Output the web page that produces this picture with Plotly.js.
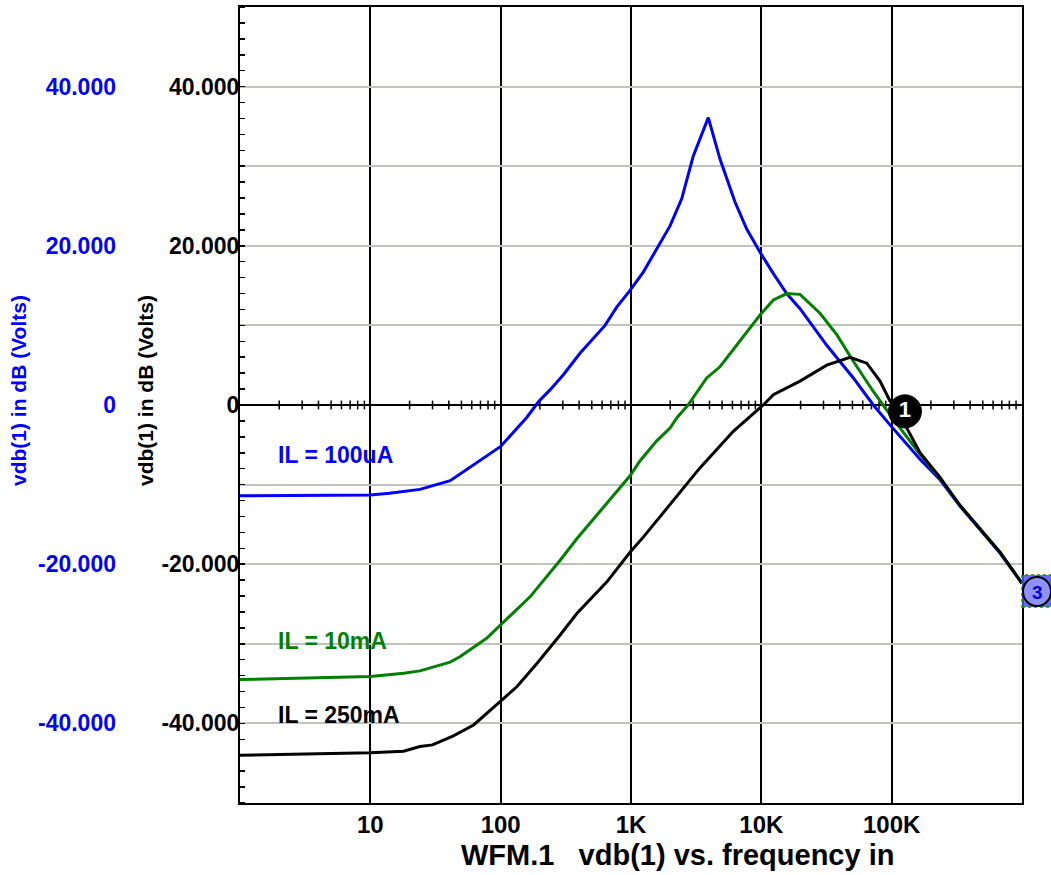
<!DOCTYPE html>
<html>
<head>
<meta charset="utf-8">
<script src="https://cdn.plot.ly/plotly-3.0.1.min.js"></script>
<style>html,body{margin:0;padding:0;background:#fff;}#chart{width:1051px;height:875px;}</style>
</head>
<body>
<div id="chart"></div>
<script>
// ---- data ----
const freqBlue = [1, 10, 14, 24, 41, 78, 100, 158, 195, 239, 303, 406, 514, 632, 777, 983, 1243, 1575, 1993, 2449, 3006, 3918, 4818, 6281, 7727, 9772, 12370, 15660, 19810, 31770, 50800, 72300, 97100, 165000, 235000, 334000, 476000, 678000, 1000000];
const dbBlue   = [-11.4, -11.3, -11.1, -10.6, -9.5, -6.4, -5.2, -1.6, 0.4, 1.9, 3.8, 6.5, 8.4, 10.0, 12.3, 14.4, 16.7, 19.6, 22.5, 25.9, 31.3, 36.1, 30.9, 25.5, 22.1, 19.2, 16.5, 14.0, 12.1, 7.5, 3.4, 0.0, -2.5, -6.8, -9.4, -12.7, -15.6, -18.6, -22.4];

const freqGreen = [1, 10, 18, 24, 41, 49, 78, 99, 168, 286, 384, 610, 983, 1175, 1575, 1993, 2250, 2740, 3810, 4818, 6440, 9772, 12370, 15660, 19810, 28300, 38000, 50800, 72300, 97100, 165000, 235000, 334000, 476000, 678000, 1000000];
const dbGreen   = [-34.5, -34.1, -33.7, -33.4, -32.3, -31.6, -29.3, -27.7, -24.1, -19.5, -16.8, -12.9, -8.9, -7.0, -4.5, -2.9, -1.6, 0.0, 3.4, 4.8, 7.5, 11.3, 13.2, 14.0, 13.9, 11.5, 8.8, 5.5, 1.7, -1.2, -6.2, -9.2, -12.6, -15.5, -18.5, -22.4];

const freqBlack = [1, 10, 18, 24, 30, 43, 62, 83, 99, 133, 189, 286, 384, 651, 983, 1243, 1993, 3380, 6095, 10350, 12370, 19810, 31770, 47900, 64400, 81400, 97100, 130600, 165000, 235000, 334000, 476000, 678000, 1000000];
const dbBlack   = [-44.0, -43.7, -43.5, -42.9, -42.7, -41.6, -40.2, -38.3, -37.25, -35.4, -32.5, -28.9, -26.2, -22.25, -18.5, -16.6, -12.5, -7.9, -3.3, 0.0, 1.3, 3.0, 5.0, 6.0, 5.25, 3.0, 0.5, -2.9, -6.0, -9.1, -12.6, -15.5, -18.5, -22.4];

const seriesNames  = ["IL = 100uA", "IL = 10mA", "IL = 250mA"];
const seriesColors = ["#0000ff", "#008000", "#000000"];

const yTickVals  = [-40, -30, -20, -10, 0, 10, 20, 30, 40];
const yTickText  = ["-40.000", "", "-20.000", "", "0", "", "20.000", "", "40.000"];
const xTickVals  = [10, 100, 1000, 10000, 100000];
const xTickText  = ["10", "100", "1K", "10K", "100K"];

const xTitle = "WFM.1\u00a0\u00a0\u00a0vdb(1) vs. frequency in";
const yTitle = "vdb(1) in dB (Volts)";

// cursor markers
const cursor1Text = "1";
const cursor1Freq = 126500;
const cursor1Db   = -0.8;
const cursor3Text = "3";

// label positions (log10 freq, dB)
const labelLogF = [0.28, 0.28, 0.28];
const labelDb   = [-6.3, -29.7, -39.0];

// ---- minor log ticks along the 0 dB axis ----
const minorX = [], minorY = [];
for (let d = 0; d < 6; d++) {
  for (let k = 2; k <= 9; k++) {
    const f = k * Math.pow(10, d);
    minorX.push(f, f, null);
    minorY.push(-0.55, 0.55, null);
  }
}

const FONT = "Liberation Sans, Arial, Helvetica, sans-serif";
const L = 240, R = 29, T = 7, B = 72, W = 1051, H = 875;
const PW = W - L - R, PH = H - T - B;
const px2x = p => (p - L) / PW;
const py2y = p => (H - B - p) / PH;

const traces = [
  {x: minorX, y: minorY, mode: "lines", line: {color: "#000", width: 1.5}, hoverinfo: "skip", showlegend: false},
  {x: freqBlue, y: dbBlue, mode: "lines", name: seriesNames[0], line: {color: seriesColors[0], width: 3}},
  {x: freqGreen, y: dbGreen, mode: "lines", name: seriesNames[1], line: {color: seriesColors[1], width: 3}},
  {x: freqBlack, y: dbBlack, mode: "lines", name: seriesNames[2], line: {color: seriesColors[2], width: 3}},
  {x: [cursor1Freq], y: [cursor1Db], mode: "markers+text", text: [cursor1Text], textposition: "middle center",
   textfont: {family: FONT, size: 22, color: "#fff", weight: "bold"},
   marker: {size: 33, color: "#000", line: {color: "#000", width: 1}}, cliponaxis: false, hoverinfo: "skip"},
  {x: [1], y: [0], yaxis: "y2", mode: "markers", marker: {opacity: 0}, hoverinfo: "skip", showlegend: false}
];

const annotations = seriesNames.map((t, i) => ({
  x: labelLogF[i], y: labelDb[i], xref: "x", yref: "y", text: t, showarrow: false,
  xanchor: "left", yanchor: "middle",
  font: {family: FONT, size: 23, color: seriesColors[i], weight: "bold"}
}));
annotations.push(
  {x: px2x(18), y: py2y(391), xref: "paper", yref: "paper", text: yTitle, showarrow: false, textangle: -90,
   xanchor: "center", yanchor: "middle", font: {family: FONT, size: 21, color: "#0000ff", weight: "bold"}},
  {x: px2x(145), y: py2y(391), xref: "paper", yref: "paper", text: yTitle, showarrow: false, textangle: -90,
   xanchor: "center", yanchor: "middle", font: {family: FONT, size: 21, color: "#000", weight: "bold"}},
  {x: px2x(677), y: py2y(855), xref: "paper", yref: "paper", text: xTitle, showarrow: false,
   xanchor: "center", yanchor: "middle", font: {family: FONT, size: 29, color: "#000", weight: "bold"}},
  {x: px2x(1037), y: py2y(592), xref: "paper", yref: "paper", text: cursor3Text, showarrow: false,
   xanchor: "center", yanchor: "middle", font: {family: FONT, size: 19, color: "#0000cc", weight: "bold"}}
);

const shapes = [
  {type: "rect", xref: "paper", yref: "paper", x0: px2x(1022), x1: px2x(1051), y0: py2y(607), y1: py2y(575),
   fillcolor: "rgba(80,80,255,0.85)", line: {color: "#00a000", width: 1.5, dash: "dot"}, layer: "above"},
  {type: "circle", xref: "paper", yref: "paper", x0: px2x(1023), x1: px2x(1051), y0: py2y(606), y1: py2y(577),
   fillcolor: "rgba(170,170,255,0.6)", line: {color: "#000", width: 2}, layer: "above"}
];

const layout = {
  width: W, height: H,
  margin: {l: L, r: R, t: T, b: B, pad: 0},
  paper_bgcolor: "#fff", plot_bgcolor: "#fff",
  showlegend: false,
  font: {family: FONT, color: "#000"},
  xaxis: {
    type: "log", range: [0, 6],
    tickvals: xTickVals, ticktext: xTickText,
    tickfont: {family: FONT, size: 24, color: "#000", weight: "bold"},
    ticks: "", showgrid: true, gridcolor: "#000", gridwidth: 2,
    showline: true, linecolor: "#000", linewidth: 2, mirror: true,
    zeroline: false, ticklabelstandoff: -1
  },
  yaxis: {
    range: [-50, 50],
    tickvals: yTickVals, ticktext: yTickText,
    tickfont: {family: FONT, size: 23, color: "#000", weight: "bold"},
    ticks: "", showgrid: true, gridcolor: "#c0c4bc", gridwidth: 2,
    minor: {dtick: 2, tick0: 0, ticks: "inside", ticklen: 5, tickcolor: "#000", tickwidth: 1.5, showgrid: false},
    showline: true, linecolor: "#000", linewidth: 2, mirror: true,
    zeroline: true, zerolinecolor: "#000", zerolinewidth: 2,
    ticklabelstandoff: -6
  },
  yaxis2: {
    overlaying: "y", side: "left", anchor: "free", position: 0,
    range: [-50, 50],
    tickvals: yTickVals, ticktext: yTickText,
    tickfont: {family: FONT, size: 23, color: "#0000ff", weight: "bold"},
    ticks: "", showgrid: false, zeroline: false, showline: false,
    ticklabelstandoff: 124
  },
  shapes: shapes,
  annotations: annotations
};

Plotly.newPlot("chart", traces, layout, {displayModeBar: false, staticPlot: true});
</script>
</body>
</html>
